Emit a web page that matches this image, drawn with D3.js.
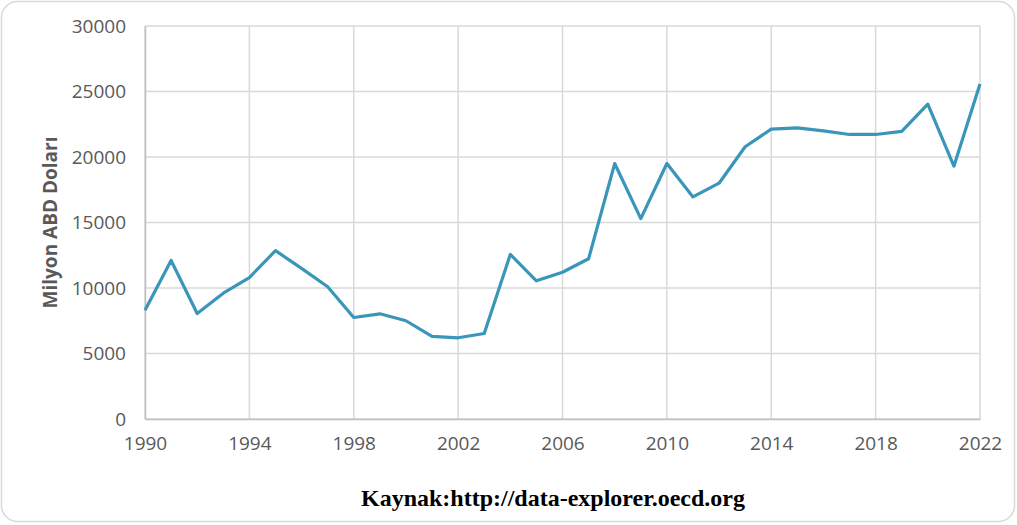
<!DOCTYPE html>
<meta charset="utf-8">
<script src="https://d3js.org/d3.v7.min.js"></script>
<style>
  body { margin: 0; background: #fff; }
</style>
<div id="chart"></div>
<script>
// data
const years = d3.range(1990, 2023);
const values = [8300, 12100, 8050, 9600, 10800, 12850, 11500, 10100, 7750, 8030,
                7500, 6300, 6200, 6530, 12560, 10550, 11200, 12230, 19500, 15300,
                19500, 16950, 18000, 20780, 22130, 22220, 22000, 21720, 21720, 21950,
                24040, 19300, 25570];
const yTicks = [0, 5000, 10000, 15000, 20000, 25000, 30000];
const xTicks = [1990, 1994, 1998, 2002, 2006, 2010, 2014, 2018, 2022];
const data = years.map((y, i) => ({year: y, value: values[i]}));

const W = 1017, H = 525;
const margin = {top: 26, right: 37, bottom: 106, left: 145},
    width = W - margin.left - margin.right,
    height = H - margin.top - margin.bottom;

const root = d3.select("#chart").append("svg")
    .attr("width", W).attr("height", H);

// outer rounded frame
root.append("rect")
    .attr("x", 1.5).attr("y", 1.5)
    .attr("width", W - 4).attr("height", H - 5)
    .attr("rx", 16)
    .attr("fill", "#fff")
    .attr("stroke", "#d9d9d9")
    .attr("stroke-width", 1.5);

const svg = root.append("g")
    .attr("transform", `translate(${margin.left},${margin.top})`);

const x = d3.scaleLinear().domain([1990, 2022]).range([0, width]);
const y = d3.scaleLinear().domain([0, 30000]).range([height, 0]);

// horizontal grid
svg.append("g")
  .selectAll("line")
  .data(yTicks)
  .join("line")
    .attr("x1", 0).attr("x2", width)
    .attr("y1", d => y(d)).attr("y2", d => y(d))
    .attr("stroke", "#d9d9d9").attr("stroke-width", 1.5);

// vertical grid
svg.append("g")
  .selectAll("line")
  .data(xTicks)
  .join("line")
    .attr("x1", d => x(d)).attr("x2", d => x(d))
    .attr("y1", 0).attr("y2", height)
    .attr("stroke", "#d9d9d9").attr("stroke-width", 1.5);

// axes
const yAxis = svg.append("g")
    .call(d3.axisLeft(y).tickValues(yTicks).tickSize(0).tickPadding(19).tickFormat(d3.format("d")));
const xAxis = svg.append("g")
    .attr("transform", `translate(0,${height})`)
    .call(d3.axisBottom(x).tickValues(xTicks).tickSize(0).tickPadding(18).tickFormat(d3.format("d")));

[yAxis, xAxis].forEach(a => {
  a.select(".domain").attr("stroke", "#bfbfbf").attr("stroke-width", 1.5);
  a.selectAll("text")
    .attr("fill", "#595959")
    .style("font-family", "'Open Sans', sans-serif")
    .style("font-size", "19px");
});

// the line
svg.append("path")
    .datum(data)
    .attr("fill", "none")
    .attr("stroke", "#3a96b8")
    .attr("stroke-width", 3.2)
    .attr("stroke-linejoin", "round")
    .attr("d", d3.line()
      .x(d => x(d.year))
      .y(d => y(d.value)));

// y axis title
root.append("text")
    .attr("transform", `translate(57,${margin.top + height / 2}) rotate(-90)`)
    .attr("text-anchor", "middle")
    .attr("fill", "#595959")
    .style("font-family", "'Open Sans', sans-serif")
    .style("font-weight", "bold")
    .style("font-size", "19px")
    .text("Milyon ABD Doları");

// source caption
root.append("text")
    .attr("x", 553).attr("y", 506)
    .attr("text-anchor", "middle")
    .attr("fill", "#000")
    .style("font-family", "'Liberation Serif', 'Times New Roman', serif")
    .style("font-weight", "bold")
    .style("font-size", "24px")
    .text("Kaynak:http://data-explorer.oecd.org");
</script>
